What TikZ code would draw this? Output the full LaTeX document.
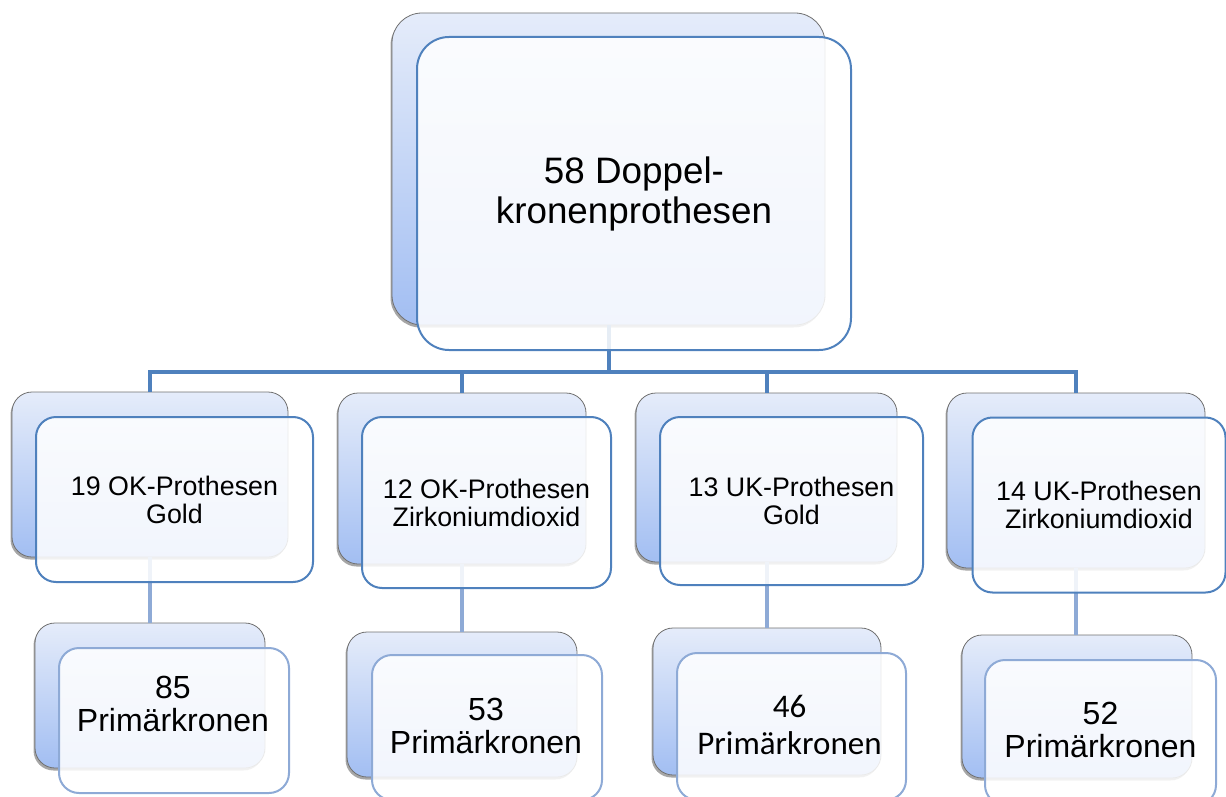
\documentclass[tikz,border=0pt]{standalone}
\usepackage{fontspec}
\setmainfont{Liberation Sans}
\newfontfamily\calibrifont{Carlito}
\usetikzlibrary{shadows}
\definecolor{linkblue}{HTML}{4F81BD}
\definecolor{linklight}{HTML}{8EAAD6}
\definecolor{backtop}{HTML}{E5ECFA}
\definecolor{backbot}{HTML}{A2BEF2}
\definecolor{edgegray}{HTML}{707070}
\begin{document}
\begin{tikzpicture}[x=1pt,y=-1pt,
  backbox/.style={draw=edgegray, line width=0.8pt, top color=backtop, bottom color=backbot,
    inner sep=0pt, drop shadow={shadow xshift=-1.5pt, shadow yshift=-2.5pt, opacity=0.35, fill=black}},
  frontbox/.style={draw=linkblue, line width=2pt, fill=white, fill opacity=0.86, text opacity=1,
    inner sep=0pt, align=center, text=black},
  front3/.style={frontbox, draw=linklight},
  link/.style={draw=linkblue, line width=4pt},
  link3/.style={draw=linklight, line width=4pt},
  lvlone/.style={font=\fontsize{36.8}{40}\selectfont},
  lvltwo/.style={font=\fontsize{26.8}{28}\selectfont},
  lvlthree/.style={align=center, inner sep=0pt, text=black, font=\fontsize{32}{33}\selectfont},
]
\useasboundingbox (0,0) rectangle (1226,797);

% ---------- back boxes ----------
\node[backbox, rounded corners=30pt, minimum width=433pt, minimum height=312pt] (b0) at (608.5,169) {};
\node[backbox, rounded corners=20pt, minimum width=276pt, minimum height=165pt] (b1) at (150,474.5) {};
\node[backbox, rounded corners=20pt, minimum width=248pt, minimum height=171pt] (b2) at (462,478.5) {};
\node[backbox, rounded corners=20pt, minimum width=261pt, minimum height=169pt] (b3) at (766.5,477.5) {};
\node[backbox, rounded corners=20pt, minimum width=258pt, minimum height=175pt] (b4) at (1076,480.5) {};
\node[backbox, rounded corners=20pt, minimum width=230pt, minimum height=145pt] (c1) at (150,695.5) {};
\node[backbox, rounded corners=20pt, minimum width=230pt, minimum height=145pt] (c2) at (462,704.5) {};
\node[backbox, rounded corners=20pt, minimum width=228pt, minimum height=147pt] (c3) at (767,701.5) {};
\node[backbox, rounded corners=20pt, minimum width=230pt, minimum height=143pt] (c4) at (1077,706.5) {};

% ---------- connectors ----------
\draw[link] (b0.south) -- ++(0,47) coordinate (hub);
\draw[link] (hub) -| (b1.north);
\draw[link] (hub) -| (b2.north);
\draw[link] (hub) -| (b3.north);
\draw[link] (hub) -| (b4.north);
\draw[link3] (b1.south) -- (b1.south |- c1.north);
\draw[link3] (b2.south) -- (b2.south |- c2.north);
\draw[link3] (b3.south) -- (b3.south |- c3.north);
\draw[link3] (b4.south) -- (b4.south |- c4.north);

% ---------- front boxes ----------
\node[frontbox, lvlone, rounded corners=32pt, minimum width=434pt, minimum height=313pt] (f0) at (634,193.5)
  {58 Doppel-\\kronenprothesen};
\node[frontbox, lvltwo, rounded corners=20pt, minimum width=277pt, minimum height=165pt] (f1) at (174.5,499.5)
  {19 OK-Prothesen\\Gold};
\node[frontbox, lvltwo, rounded corners=20pt, minimum width=249pt, minimum height=171pt] (f2) at (486.5,502.5)
  {12 OK-Prothesen\\Zirkoniumdioxid};
\node[frontbox, lvltwo, rounded corners=20pt, minimum width=263pt, minimum height=168pt] (f3) at (791.5,501)
  {13 UK-Prothesen\\Gold};
\node[frontbox, lvltwo, rounded corners=20pt, minimum width=253pt, minimum height=175pt] (f4) at (1099,505)
  {14 UK-Prothesen\\Zirkoniumdioxid};

\node[front3, rounded corners=20pt, minimum width=230pt, minimum height=145pt] (g1) at (174,720.5) {};
\node[front3, rounded corners=20pt, minimum width=230pt, minimum height=145pt] (g2) at (487,727.5) {};
\node[front3, rounded corners=20pt, minimum width=229pt, minimum height=147pt] (g3) at (791.5,726.5) {};
\node[front3, rounded corners=20pt, minimum width=231pt, minimum height=145pt] (g4) at (1100.5,732.5) {};

% ---------- level-3 texts ----------
\node[lvlthree] (t1) at (173,703.5) {85\\Primärkronen};
\node[lvlthree] (t2) at (486,726) {53\\Primärkronen};
\node[lvlthree, font=\calibrifont\fontsize{33}{37}\selectfont] (t3) at (789.5,725) {46\\Primärkronen};
\node[lvlthree] (t4) at (1100.5,730) {52\\Primärkronen};
\end{tikzpicture}
\end{document}
